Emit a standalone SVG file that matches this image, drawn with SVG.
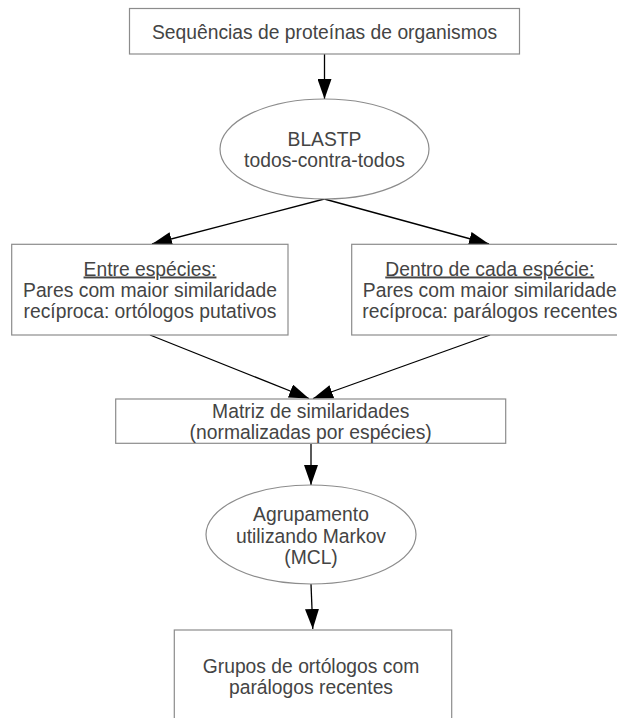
<svg xmlns="http://www.w3.org/2000/svg" width="617" height="718" viewBox="0 0 617 718">
<style>
.box{fill:#fff;stroke:#8c8c8c;stroke-width:1.2}
.t{font-family:"Liberation Sans",Arial,sans-serif;font-size:19.3px;fill:#444;text-anchor:middle}
.c{stroke:#000;stroke-width:1.3;fill:none;marker-end:url(#ah)}
</style>
<defs>
<marker id="ah" markerUnits="userSpaceOnUse" markerWidth="21" markerHeight="14" refX="20" refY="7" orient="auto">
<path d="M0,0 L20,7 L0,14 Z" fill="#000"/>
</marker>
</defs>
<rect width="617" height="718" fill="#fff"/>
<g id="connectors">
<line class="c" x1="324.5" y1="54" x2="324.5" y2="99"/>
<line class="c" x1="324.3" y1="199" x2="152" y2="244"/>
<line class="c" x1="324.3" y1="199" x2="489" y2="244"/>
<line class="c" x1="150" y1="335" x2="309" y2="398.5"/>
<line class="c" x1="490" y1="335" x2="313" y2="398.5"/>
<line class="c" x1="311" y1="444" x2="311" y2="485"/>
<line class="c" x1="311" y1="584" x2="312.8" y2="629"/>
</g>
<g id="n1">
<rect class="box" x="129.5" y="8.5" width="390" height="45.5"/>
<text class="t" x="324.5" y="38.5">Sequências de proteínas de organismos</text>
</g>
<g id="n2">
<ellipse class="box" cx="324.5" cy="149" rx="104.5" ry="50"/>
<text class="t" x="324.5" y="145.5">BLASTP</text>
<text class="t" x="324.5" y="167">todos-contra-todos</text>
</g>
<g id="n3">
<rect class="box" x="11.7" y="244.3" width="276.3" height="90.7"/>
<text class="t" x="150" y="275.5"><tspan text-decoration="underline">Entre espécies:</tspan></text>
<text class="t" x="150" y="296.5">Pares com maior similaridade</text>
<text class="t" x="150" y="317.5">recíproca: ortólogos putativos</text>
</g>
<g id="n4">
<rect class="box" x="351.7" y="244.3" width="276.3" height="90.7"/>
<text class="t" x="489.8" y="275.5"><tspan text-decoration="underline">Dentro de cada espécie:</tspan></text>
<text class="t" x="489.8" y="296.5">Pares com maior similaridade</text>
<text class="t" x="489.8" y="317.5">recíproca: parálogos recentes</text>
</g>
<g id="n5">
<rect class="box" x="115.7" y="399" width="390" height="44.3"/>
<text class="t" x="310.7" y="418">Matriz de similaridades</text>
<text class="t" x="310.7" y="439">(normalizadas por espécies)</text>
</g>
<g id="n6">
<ellipse class="box" cx="311" cy="534.5" rx="105" ry="49.5"/>
<text class="t" x="311" y="521">Agrupamento</text>
<text class="t" x="311" y="542.5">utilizando Markov</text>
<text class="t" x="311" y="564">(MCL)</text>
</g>
<g id="n7">
<rect class="box" x="174.3" y="630" width="277.4" height="100"/>
<text class="t" x="311" y="673">Grupos de ortólogos com</text>
<text class="t" x="311" y="694">parálogos recentes</text>
</g>
</svg>
